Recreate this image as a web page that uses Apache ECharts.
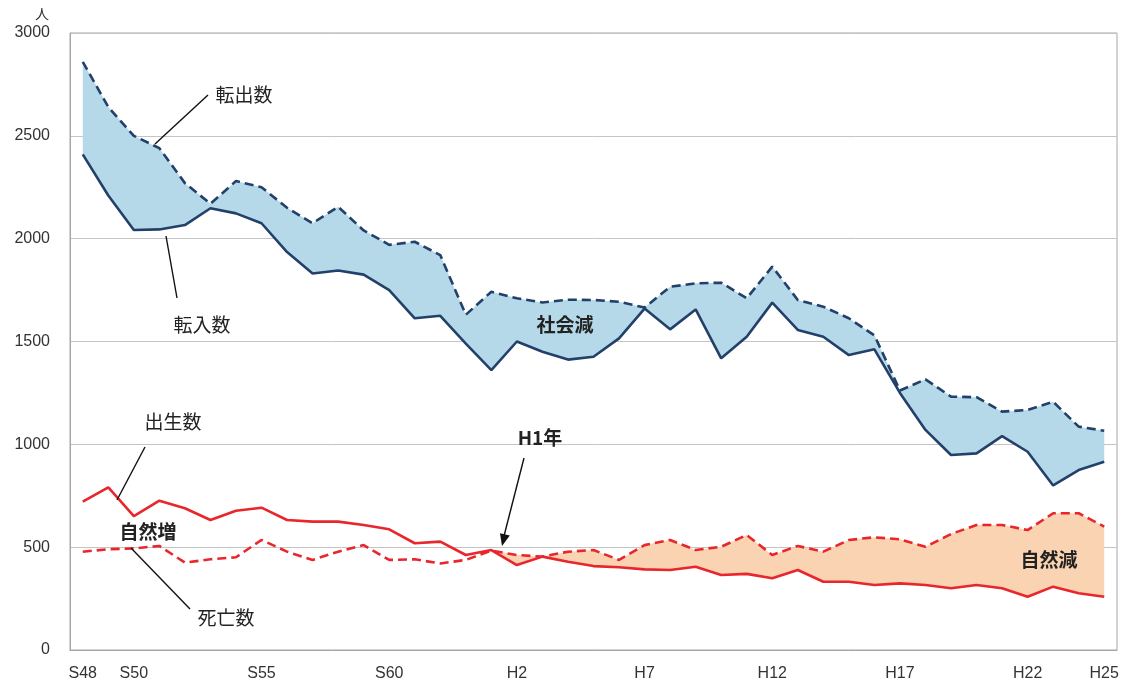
<!DOCTYPE html>
<html>
<head>
<meta charset="utf-8">
<script src="https://cdn.jsdelivr.net/npm/echarts@6/dist/echarts.min.js"></script>
<style>
html,body{margin:0;padding:0;background:#fff;}
#c{width:1127px;height:685px;}
</style>
</head>
<body>
<div id="c"></div>
<script>
// Categories: S48 (1973) .. S63 (1988), H1 (1989) .. H25 (2013)
const categories = ['S48','S49','S50','S51','S52','S53','S54','S55','S56','S57','S58','S59','S60','S61','S62','S63',
  'H1','H2','H3','H4','H5','H6','H7','H8','H9','H10','H11','H12','H13','H14','H15','H16','H17','H18','H19','H20','H21','H22','H23','H24','H25'];
const xTickLabels = ['S48','S50','S55','S60','H2','H7','H12','H17','H22','H25'];
const yTicks = [0, 500, 1000, 1500, 2000, 2500, 3000];

// 転出数 (out-migration)
const outMigration = [2860,2640,2500,2440,2270,2170,2280,2250,2150,2075,2155,2040,1970,1985,1920,1630,
  1742,1710,1690,1703,1702,1693,1665,1766,1783,1786,1710,1864,1702,1669,1613,1530,1262,1316,1232,1229,1159,1167,1207,1086,1066];
// 転入数 (in-migration)
const inMigration = [2410,2210,2042,2045,2066,2148,2123,2075,1935,1831,1845,1825,1750,1613,1625,1490,
  1361,1500,1450,1412,1426,1515,1660,1559,1656,1418,1523,1689,1556,1523,1434,1462,1250,1070,948,956,1040,964,800,875,915];
// 出生数 (births)
const births = [721,791,651,726,689,632,677,692,632,624,624,608,587,519,527,462,
  486,413,454,429,408,402,392,389,405,365,370,349,389,332,332,316,324,316,300,316,300,259,308,276,259];
// 死亡数 (deaths)
const deaths = [478,490,494,506,425,441,451,535,478,438,478,510,438,441,421,438,
  483,462,454,478,486,438,510,535,486,502,559,462,506,478,535,548,538,502,564,608,608,583,665,665,600];

const naturalDecreaseStart = categories.indexOf('H1');

// helper arrays for the library's stacked-area fills
const socialBase = inMigration.slice();
const socialDiff = outMigration.map((v, i) => v - inMigration[i]);
const natBase = births.map((v, i) => i >= naturalDecreaseStart ? v : '-');
const natDiff = deaths.map((v, i) => i >= naturalDecreaseStart ? Math.max(0, v - births[i]) : '-');

const navy = '#23406b';
const red = '#e8262b';
const blueFill = '#b5d9e8';
const orangeFill = '#fad3b2';

const chart = echarts.init(document.getElementById('c'), null, {renderer: 'canvas'});

const txt = (t, x, y, opts) => Object.assign({
  type: 'text', z: 100,
  style: Object.assign({
    text: t, x: x, y: y, align: 'center', verticalAlign: 'middle',
    font: '19px "Noto Sans CJK JP"', fill: '#222'
  }, opts || {})
});
const ln = (x1, y1, x2, y2) => ({
  type: 'line', z: 100,
  shape: {x1, y1, x2, y2},
  style: {stroke: '#111', lineWidth: 1.4}
});

chart.setOption({
  animation: false,
  backgroundColor: '#fff',
  grid: {left: 70, right: 10, top: 33, bottom: 35, show: true, borderColor: '#a6a6a6', borderWidth: 1},
  xAxis: {
    type: 'category',
    data: categories,
    boundaryGap: true,
    axisLine: {show: true, lineStyle: {color: '#a6a6a6'}},
    axisTick: {show: false},
    axisLabel: {
      interval: (idx, val) => xTickLabels.indexOf(val) >= 0,
      color: '#333', fontSize: 16, fontFamily: 'Liberation Sans', margin: 16
    },
    splitLine: {show: false}
  },
  yAxis: {
    type: 'value',
    min: yTicks[0], max: yTicks[yTicks.length - 1], interval: 500,
    axisLine: {show: true, lineStyle: {color: '#a6a6a6'}},
    axisTick: {show: false},
    axisLabel: {color: '#333', fontSize: 16, fontFamily: 'Liberation Sans', margin: 20,
      formatter: v => String(v)},
    splitLine: {show: true, lineStyle: {color: '#c4c4c4', width: 1}}
  },
  series: [
    {name: 'socialBase', type: 'line', stack: 'social', data: socialBase, symbol: 'none',
      lineStyle: {opacity: 0}, silent: true, z: 1},
    {name: 'socialDiff', type: 'line', stack: 'social', data: socialDiff, symbol: 'none',
      lineStyle: {opacity: 0}, areaStyle: {color: blueFill, opacity: 1}, silent: true, z: 1},
    {name: 'natBase', type: 'line', stack: 'nat', data: natBase, symbol: 'none',
      lineStyle: {opacity: 0}, silent: true, z: 1},
    {name: 'natDiff', type: 'line', stack: 'nat', data: natDiff, symbol: 'none',
      lineStyle: {opacity: 0}, areaStyle: {color: orangeFill, opacity: 1}, silent: true, z: 1},
    {name: '転入数', type: 'line', data: inMigration, symbol: 'none',
      lineStyle: {color: navy, width: 2.6}, z: 5},
    {name: '転出数', type: 'line', data: outMigration, symbol: 'none',
      lineStyle: {color: navy, width: 2.6, type: [9, 5]}, z: 5},
    {name: '出生数', type: 'line', data: births, symbol: 'none',
      lineStyle: {color: red, width: 2.6}, z: 6},
    {name: '死亡数', type: 'line', data: deaths, symbol: 'none',
      lineStyle: {color: red, width: 2.6, type: [9, 5]}, z: 6}
  ],
  graphic: [
    txt('人', 42, 14, {font: '14px "Noto Sans CJK JP"', fill: '#333'}),
    txt('転出数', 244, 95),
    ln(208, 95, 155, 144),
    txt('転入数', 202, 325),
    ln(166, 236, 177, 298),
    txt('社会減', 565, 325, {font: 'bold 19px "Noto Sans CJK JP"'}),
    txt('出生数', 173, 422),
    ln(145, 447, 117, 500),
    txt('自然増', 148, 532, {font: 'bold 19px "Noto Sans CJK JP"'}),
    txt('死亡数', 226, 618),
    ln(131, 548, 190, 609),
    txt('H1年', 540, 438, {font: 'bold 19px "Noto Sans CJK JP"'}),
    ln(524, 458, 504, 536),
    {type: 'polygon', z: 100, shape: {points: [[502, 546], [509.8, 535.6], [500, 533.2]]}, style: {fill: '#111'}},
    txt('自然減', 1049, 560, {font: 'bold 19px "Noto Sans CJK JP"'})
  ]
});
</script>
</body>
</html>
